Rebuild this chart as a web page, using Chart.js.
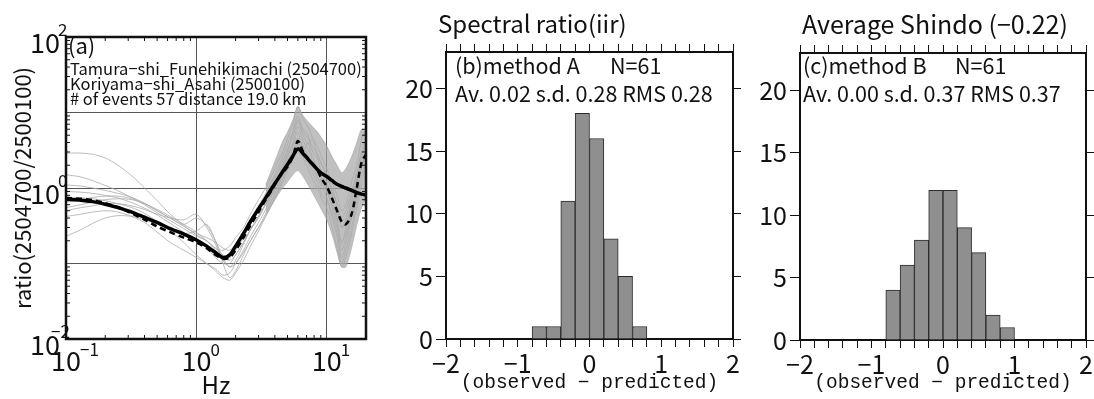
<!DOCTYPE html>
<html>
<head>
<meta charset="UTF-8">
<title>Spectral ratio</title>
<script src="https://cdn.jsdelivr.net/npm/chart.js@4.4.1/dist/chart.umd.min.js"></script>
<style>
  body { margin:0; background:#fff; width:1094px; height:399px; overflow:hidden; position:relative; }
  canvas { position:absolute; left:0; top:0; }
</style>
</head>
<body>
<canvas id="ratioChart" width="1094" height="399"></canvas>
<canvas id="histA" width="1094" height="399"></canvas>
<canvas id="histB" width="1094" height="399"></canvas>
<script>
// ---- panel (a): spectral ratio, frequency in Hz
const freqs = [0.1,0.13,0.16,0.2,0.25,0.32,0.4,0.5,0.63,0.8,1.0,1.2,1.4,1.6,1.8,2.0,2.3,2.6,3.0,3.4,
  3.8,4.2,4.6,5.0,5.5,6.0,6.6,7.2,7.8,8.5,9.2,10,11,12,13,14,15.5,17,18.5,20];
const modelRatio = [0.71,0.69,0.66,0.61,0.55,0.48,0.41,0.35,0.29,0.245,0.205,0.17,0.14,0.12,0.13,0.17,0.25,0.36,0.53,0.74,
  1.0,1.3,1.65,2.05,2.65,3.3,2.85,2.4,2.05,1.75,1.55,1.42,1.25,1.12,1.05,1.0,0.93,0.87,0.83,0.81];
const meanRatio = [0.74,0.72,0.69,0.63,0.56,0.46,0.38,0.31,0.26,0.22,0.19,0.16,0.13,0.115,0.12,0.15,0.22,0.32,0.48,0.7,
  0.95,1.3,1.6,1.9,2.6,4.2,3.0,2.4,2.1,1.7,1.3,1.05,0.72,0.5,0.36,0.33,0.45,1.0,2.2,2.8];
const eventRatios = [
  [0.42,0.45,0.48,0.5,0.48,0.42,0.35,0.26,0.19,0.15,0.12,0.1,0.085,0.07,0.075,0.1,0.15,0.23,0.35,0.52,0.8,1.1,1.6,2.2,3.5,5.5,3.2,4.0,2.2,1.8,1.1,0.9,0.55,0.3,0.2,0.25,0.5,1.1,2.0,2.6],
  [1.5,1.4,1.25,1.08,0.92,0.74,0.6,0.47,0.37,0.29,0.23,0.2,0.16,0.13,0.12,0.15,0.22,0.33,0.5,0.75,1.1,1.6,2.3,3.2,4.8,7.5,5.0,3.8,4.5,2.6,2.0,1.5,1.0,0.6,0.4,0.5,0.9,1.6,3.0,3.5],
  [2.9,2.9,2.8,2.5,2.0,1.45,1.0,0.68,0.45,0.32,0.24,0.2,0.15,0.12,0.11,0.13,0.19,0.28,0.42,0.62,0.9,1.3,1.9,2.7,3.8,4.5,3.5,2.7,2.0,1.6,1.3,1.1,0.8,0.5,0.3,0.35,0.7,1.3,2.2,2.5],
  [0.55,0.6,0.65,0.7,0.72,0.7,0.62,0.5,0.4,0.33,0.4,0.32,0.2,0.12,0.09,0.11,0.18,0.28,0.42,0.62,0.95,1.4,2.0,3.0,5.5,9.0,6.0,5.0,3.0,2.4,1.5,1.2,0.7,0.4,0.18,0.3,0.6,1.2,2.5,4.0],
  [0.9,0.88,0.85,0.8,0.74,0.64,0.54,0.44,0.34,0.26,0.2,0.16,0.12,0.1,0.1,0.13,0.19,0.28,0.4,0.6,0.85,1.2,1.8,2.5,4.0,6.5,4.2,3.2,2.6,1.7,1.3,0.95,0.6,0.35,0.15,0.22,0.45,1.0,1.8,3.0],
  [0.23,0.28,0.34,0.4,0.43,0.42,0.38,0.33,0.28,0.25,0.27,0.33,0.2,0.1,0.065,0.08,0.13,0.2,0.3,0.46,0.7,1.0,1.5,2.2,3.0,4.0,2.8,2.2,1.6,1.2,0.8,0.7,0.4,0.22,0.1,0.15,0.3,0.7,1.3,1.8],
  [0.65,0.7,0.75,0.78,0.78,0.72,0.62,0.52,0.42,0.33,0.26,0.2,0.16,0.15,0.17,0.22,0.3,0.45,0.7,1.0,1.5,2.2,3.0,4.5,7.0,12.0,8.0,6.5,4.5,3.5,2.5,1.8,1.2,0.8,0.5,0.6,1.2,2.0,4.5,6.0],
  [0.75,0.74,0.72,0.68,0.62,0.55,0.46,0.36,0.27,0.19,0.13,0.1,0.08,0.065,0.06,0.075,0.11,0.17,0.27,0.42,0.62,0.9,1.3,1.9,2.8,3.8,3.0,2.2,1.9,1.4,1.0,0.75,0.45,0.25,0.12,0.18,0.4,0.8,1.5,2.2],
  [1.1,1.06,1.0,0.93,0.85,0.75,0.63,0.5,0.4,0.31,0.25,0.22,0.19,0.16,0.15,0.18,0.25,0.38,0.58,0.85,1.25,1.8,2.6,3.8,5.5,8.0,5.5,4.5,3.5,2.8,2.0,1.4,0.9,0.6,0.3,0.4,0.8,1.5,3.0,4.5],
  [0.5,0.55,0.58,0.62,0.62,0.58,0.52,0.45,0.4,0.38,0.45,0.3,0.18,0.11,0.09,0.1,0.14,0.2,0.3,0.42,0.6,0.85,1.2,1.7,2.5,3.2,2.5,1.8,1.3,1.0,0.7,0.55,0.3,0.16,0.09,0.12,0.25,0.55,1.1,1.5]
];
// dense spread of the individual events above 3 Hz
const bandFreqs = [3.4,3.8,4.2,4.6,5.0,5.5,6.0,6.6,7.2,7.8,8.5,9.2,10,11,12,13,14,15.5,17,18.5,20];
const bandUpper = [1.1,1.8,2.8,4.2,5.5,8.0,12.0,9.0,7.5,6.5,5.5,4.5,3.6,2.6,2.0,1.6,1.8,2.6,4.0,6.0,5.5];
const bandLower = [0.45,0.6,0.8,1.0,1.2,1.5,1.7,1.4,1.1,0.85,0.65,0.5,0.38,0.24,0.14,0.09,0.09,0.16,0.32,0.55,0.75];
const ratioXTicks = [[0.1,'−1'],[1,'0'],[10,'1']];
const ratioYTicks = [[100,'2'],[1,'0'],[0.01,'−2']];

// ---- panels (b),(c): histograms of observed - predicted
const binCentersA = [-0.7,-0.5,-0.3,-0.1,0.1,0.3,0.5,0.7];
const countsA = [1,1,11,18,16,8,5,1];
const binCentersB = [-0.7,-0.5,-0.3,-0.1,0.1,0.3,0.5,0.7,0.9];
const countsB = [4,6,8,12,12,9,7,2,1];

const FONT = '"Noto Sans CJK JP", "Noto Sans", sans-serif';
const INK = '#111';
Chart.defaults.font.family = FONT;
Chart.defaults.color = INK;

function pts(xs, ys) { return xs.map((x, i) => ({x: x, y: ys[i]})); }

const ratioFrame = {
  id: 'ratioFrame',
  afterDraw(chart) {
    const {ctx, chartArea: a, scales: {x, y}} = chart;
    ctx.save();
    ctx.strokeStyle = INK;
    ctx.lineWidth = 1;
    ctx.beginPath();
    [0.1, 1, 10].forEach(d => {
      for (let k = 2; k <= 9; k++) {
        const v = d * k;
        if (v >= 20) break;
        const px = x.getPixelForValue(v);
        ctx.moveTo(px, a.bottom); ctx.lineTo(px, a.bottom - 4);
        ctx.moveTo(px, a.top); ctx.lineTo(px, a.top + 4);
      }
    });
    [0.01, 0.1, 1, 10].forEach(d => {
      for (let k = 2; k <= 9; k++) {
        const py = y.getPixelForValue(d * k);
        ctx.moveTo(a.left, py); ctx.lineTo(a.left + 4, py);
        ctx.moveTo(a.right, py); ctx.lineTo(a.right - 4, py);
      }
    });
    ctx.stroke();
    ctx.lineWidth = 2.5;
    ctx.strokeRect(a.left, a.top, a.right - a.left, a.bottom - a.top);

    ctx.fillStyle = INK;
    ctx.textBaseline = 'middle';
    ratioYTicks.forEach(([v, e]) => {
      const py = y.getPixelForValue(v);
      ctx.font = '27px ' + FONT; ctx.textAlign = 'right';
      ctx.fillText('10', a.left - 6, py + 6);
      ctx.font = '17px ' + FONT; ctx.textAlign = 'left';
      ctx.fillText(e, a.left - (e.length > 1 ? 15 : 8), py - 7);
    });
    ratioXTicks.forEach(([v, e]) => {
      const px = x.getPixelForValue(v);
      ctx.font = '27px ' + FONT; ctx.textAlign = 'center';
      ctx.fillText('10', px, a.bottom + 22);
      ctx.font = '17px ' + FONT; ctx.textAlign = 'left';
      ctx.fillText(e, px + 14, a.bottom + 11);
    });

    ctx.textAlign = 'left';
    ctx.font = '22px ' + FONT;
    ctx.fillText('(a)', a.left + 2, a.top + 9);
    ctx.font = '16.5px ' + FONT;
    ctx.fillText('Tamura−shi_Funehikimachi (2504700)', a.left + 4, a.top + 32);
    ctx.fillText('Koriyama−shi_Asahi (2500100)', a.left + 4, a.top + 47);
    ctx.fillText('# of events 57 distance 19.0 km', a.left + 4, a.top + 62);
    ctx.restore();
  }
};

const ratioDatasets = [
  {data: pts(freqs, modelRatio), borderColor: '#000', borderWidth: 3.5, tension: 0.3},
  {data: pts(freqs, meanRatio), borderColor: '#000', borderWidth: 2.5, borderDash: [6, 4], tension: 0.3}
];
eventRatios.forEach(r => ratioDatasets.push({data: pts(freqs, r), borderColor: '#ababab', borderWidth: 0.8, tension: 0.3}));
ratioDatasets.push({data: pts(bandFreqs, bandUpper), borderColor: 'rgba(150,150,150,0.6)', borderWidth: 0.8, tension: 0.3,
  fill: '+1', backgroundColor: 'rgba(165,165,165,0.7)'});
ratioDatasets.push({data: pts(bandFreqs, bandLower), borderColor: 'rgba(150,150,150,0.6)', borderWidth: 0.8, tension: 0.3});

new Chart(document.getElementById('ratioChart'), {
  type: 'line',
  data: {datasets: ratioDatasets},
  options: {
    responsive: false, animation: false, devicePixelRatio: 1,
    layout: {padding: {left: 0, top: 37, right: 728, bottom: 0}},
    elements: {point: {radius: 0}},
    plugins: {legend: {display: false}, tooltip: {enabled: false}},
    scales: {
      x: {
        type: 'logarithmic', min: 0.1, max: 20,
        afterBuildTicks(s) { s.ticks = ratioXTicks.map(t => ({value: t[0]})); },
        afterFit(s) { s.height = 60; },
        ticks: {display: false},
        grid: {color: '#555', lineWidth: 1, drawTicks: false},
        border: {display: false},
        title: {display: true, text: 'Hz', font: {size: 24}, padding: {top: 0, bottom: 0}}
      },
      y: {
        type: 'logarithmic', min: 0.01, max: 100,
        afterBuildTicks(s) { s.ticks = [0.01, 0.1, 1, 10, 100].map(v => ({value: v})); },
        afterFit(s) { s.width = 66; },
        ticks: {display: false},
        grid: {color: '#555', lineWidth: 1, drawTicks: false},
        border: {display: false},
        title: {display: true, text: 'ratio(2504700/2500100)', font: {size: 22}, padding: {top: 9, bottom: 0}}
      }
    }
  },
  plugins: [ratioFrame]
});

const histText = {
  id: 'histText',
  afterDraw(chart, args, o) {
    const ctx = chart.ctx;
    ctx.save();
    ctx.fillStyle = INK;
    ctx.textBaseline = 'middle';
    ctx.textAlign = 'left';
    ctx.font = o.titleSize + 'px ' + FONT;
    ctx.fillText(o.title, o.titleX, 24);
    ctx.font = '21.5px ' + FONT;
    ctx.fillText(o.method, o.textX, 66);
    ctx.fillText('N=61', o.nX, 66);
    ctx.fillText(o.stats, o.textX, 94);
    ctx.restore();
  }
};

function signed(v) { return v < 0 ? '−' + Math.abs(v) : String(v); }

function histChart(id, centers, counts, area, text) {
  const tickGrid = {drawOnChartArea: false, color: INK, tickColor: INK, tickWidth: 1};
  return new Chart(document.getElementById(id), {
    type: 'bar',
    data: {datasets: [{
      data: pts(centers, counts),
      backgroundColor: '#8f8f8f', borderColor: '#2b2b2b', borderWidth: 1,
      barPercentage: 1, categoryPercentage: 1
    }]},
    options: {
      responsive: false, animation: false, devicePixelRatio: 1,
      layout: {padding: {left: area.left - area.yWidth, top: area.top - 8, right: 1094 - area.right - 8, bottom: 0}},
      plugins: {legend: {display: false}, tooltip: {enabled: false}, histText: text},
      scales: {
        x: {
          type: 'linear', position: 'bottom', min: -2, max: 2, offset: false,
          grid: Object.assign({offset: false, tickLength: 8}, tickGrid),
          border: {color: INK, width: 2},
          ticks: {stepSize: 0.2, autoSkip: false, maxRotation: 0, padding: 1, font: {size: 25}},
          afterFit(s) { s.height = 399 - area.bottom; },
          title: {display: true, text: '(observed − predicted)', font: {family: '"Liberation Mono", monospace', size: 19.5},
            padding: {top: 0, bottom: 4}}
        },
        xTop: {
          type: 'linear', position: 'top', min: -2, max: 2, offset: false,
          grid: Object.assign({offset: false, tickLength: 8}, tickGrid),
          border: {color: INK, width: 2},
          ticks: {display: true, stepSize: 0.2, autoSkip: false, callback: () => ''},
          afterFit(s) { s.height = 8; }
        },
        y: {
          min: 0, max: area.yMax,
          afterBuildTicks(s) { s.ticks = s.ticks.filter(t => t.value % 5 === 0); },
          grid: Object.assign({tickLength: 10}, tickGrid),
          border: {color: INK, width: 2},
          ticks: {stepSize: 5, padding: 3, font: {size: 25}},
          afterFit(s) { s.width = area.yWidth; }
        },
        yRight: {
          position: 'right', min: 0, max: area.yMax,
          afterBuildTicks(s) { s.ticks = s.ticks.filter(t => t.value % 5 === 0); },
          grid: Object.assign({tickLength: 8}, tickGrid),
          border: {color: INK, width: 2},
          ticks: {stepSize: 5, callback: () => ''},
          afterFit(s) { s.width = 8; }
        }
      }
    },
    plugins: [histText]
  });
}

// the x callback is set here so the bottom axis labels only the whole numbers
Chart.defaults.scales.linear.ticks.callback = function (v) {
  return Math.abs(v - Math.round(v)) < 1e-6 ? signed(Math.round(v)) : '';
};

histChart('histA', binCentersA, countsA,
  {left: 446, right: 733, top: 52, bottom: 339, yWidth: 66, yMax: 22.9},
  {title: 'Spectral ratio(iir)', titleSize: 24, titleX: 438, method: '(b)method A', textX: 455, nX: 610,
   stats: 'Av. 0.02 s.d. 0.28 RMS 0.28'});
histChart('histB', binCentersB, countsB,
  {left: 800, right: 1086, top: 53, bottom: 340, yWidth: 60, yMax: 23},
  {title: 'Average Shindo (−0.22)', titleSize: 25, titleX: 802, method: '(c)method B', textX: 803, nX: 955,
   stats: 'Av. 0.00 s.d. 0.37 RMS 0.37'});
</script>
</body>
</html>
